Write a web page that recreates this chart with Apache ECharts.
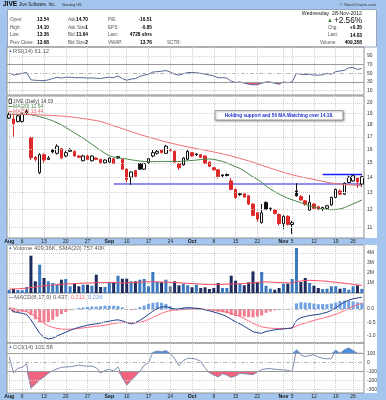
<!DOCTYPE html>
<html><head><meta charset="utf-8">
<script src="https://cdn.jsdelivr.net/npm/echarts@6/dist/echarts.min.js"></script>
<style>html,body{margin:0;padding:0;background:#a4c6ee;}#c{width:386px;height:400px;}</style>
</head><body><div id="c"></div>
<script>
// ---------------- DATA ----------------
const categories = ['Aug 1','Aug 2','Aug 3','Aug 6','Aug 7','Aug 8','Aug 9','Aug 10','Aug 13','Aug 14','Aug 15','Aug 16','Aug 17','Aug 20','Aug 21','Aug 22','Aug 23','Aug 24','Aug 27','Aug 28','Aug 29','Aug 30','Aug 31',
'Sep 4','Sep 5','Sep 6','Sep 7','Sep 10','Sep 11','Sep 12','Sep 13','Sep 14','Sep 17','Sep 18','Sep 19','Sep 20','Sep 21','Sep 24','Sep 25','Sep 26','Sep 27','Sep 28',
'Oct 1','Oct 2','Oct 3','Oct 4','Oct 5','Oct 8','Oct 9','Oct 10','Oct 11','Oct 12','Oct 15','Oct 16','Oct 17','Oct 18','Oct 19','Oct 22','Oct 23','Oct 24','Oct 25','Oct 26','Oct 31',
'Nov 1','Nov 2','Nov 5','Nov 6','Nov 7','Nov 8','Nov 9','Nov 12','Nov 13','Nov 14','Nov 15','Nov 16','Nov 19','Nov 20','Nov 21','Nov 23','Nov 26','Nov 27','Nov 28'];
const tickIndex = [0,3,8,13,18,23,27,32,37,42,47,52,57,63,65,70,75,79];
const tickText  = ['Aug','6','13','20','27','Sep','10','17','24','Oct','8','15','22','Nov','5','12','19','26'];
const monthTicks = ['Aug','Sep','Oct','Nov'];

const opens = [18.6,18.52,18.3,18.3,19.0,16.95,15.4,14.3,15.6,15.25,
15.95,15.7,16.05,15.5,15.85,15.85,15.5,15.15,15.5,15.15,
15.35,15.25,15.0,15.05,15.3,15.45,15.25,14.55,14.0,14.45,
14.95,14.55,15.0,15.5,15.7,15.95,15.7,15.9,15.85,14.95,
14.85,15.25,15.75,15.65,15.6,15.5,15.05,14.65,14.5,14.15,
14.18,13.75,13.2,12.92,12.92,12.8,12.3,11.8,11.25,12.4,
11.98,11.95,11.7,11.2,11.6,11.15,13.1,12.75,12.5,11.95,
12.3,12.15,11.98,12.05,12.25,12.7,13.1,12.9,13.65,13.75,
13.95,13.54];
const closes = [18.9,18.1,18.8,19.0,19.2,15.37,15.25,15.6,15.2,15.35,
15.8,16.25,15.35,15.75,15.95,15.5,15.4,15.5,15.25,15.5,
15.25,15.0,15.2,15.35,14.95,15.35,14.55,13.85,14.35,14.05,
14.55,14.95,15.3,15.75,15.85,15.75,16.25,16.0,15.05,14.65,
15.35,15.85,15.5,15.6,15.4,14.95,14.75,14.5,14.05,14.1,
14.12,13.2,12.7,12.87,12.72,12.3,11.65,11.45,11.8,12.0,
12.05,11.75,11.2,11.6,11.15,11.25,12.8,12.55,12.3,12.4,
12.05,11.98,12.1,12.2,12.7,13.2,12.9,13.6,14.0,14.1,
13.68,14.03];
const lows = [18.5,17.0,18.2,18.2,18.9,15.2,15.1,14.2,15.0,15.2,
15.7,15.6,15.3,15.4,15.8,15.45,15.35,15.1,15.2,15.1,
15.2,14.95,14.95,15.0,14.9,15.3,14.5,13.65,13.5,14.0,
14.5,14.5,14.95,15.4,15.6,15.7,15.65,15.85,15.0,14.5,
14.8,15.2,15.45,15.5,15.35,14.9,14.7,14.45,13.9,14.0,
14.05,13.15,12.6,12.8,12.7,12.25,11.6,11.3,11.2,11.95,
11.9,11.7,11.1,10.9,11.1,10.65,12.75,12.5,12.2,11.9,
12.0,11.95,11.9,12.0,12.2,12.65,12.85,12.85,13.6,13.7,
13.3,13.36];
const highs = [19.1,18.9,18.9,19.1,19.4,17.0,15.5,15.7,15.7,15.5,
16.0,16.4,16.1,15.9,16.1,15.9,15.55,15.6,15.6,15.55,
15.4,15.3,15.25,15.4,15.35,15.5,15.3,14.6,14.4,14.5,
15.0,15.0,15.35,15.95,15.95,16.0,16.35,16.05,15.9,15.0,
15.4,15.95,15.8,15.7,15.65,15.55,15.1,14.7,14.55,14.2,
14.25,13.95,13.25,13.0,12.95,12.85,12.35,11.85,12.3,12.45,
12.1,12.0,11.75,11.65,11.65,11.35,13.6,12.85,12.55,12.85,
12.35,12.2,12.15,12.25,12.75,13.25,13.2,13.65,14.1,14.15,
14.0,14.10];
const ma20 = [18.95,18.95,18.94,18.93,18.92,18.9,18.82,18.72,18.62,18.5,
18.35,18.18,18.0,17.78,17.55,17.32,17.1,16.88,16.65,16.4,
16.15,15.92,15.7,15.52,15.42,15.36,15.32,15.28,15.22,15.17,
15.13,15.1,15.08,15.08,15.09,15.1,15.1,15.1,15.09,15.1,
15.12,15.14,15.17,15.2,15.24,15.27,15.28,15.25,15.18,15.1,
14.98,14.85,14.72,14.6,14.42,14.22,14.02,13.85,13.65,13.42,
13.22,13.05,12.9,12.77,12.65,12.56,12.47,12.38,12.28,12.2,
12.12,12.06,12.02,11.99,11.97,11.98,12.02,12.09,12.2,12.31,
12.43,12.54];
const ma50 = [18.97,18.96,18.95,18.94,18.93,18.92,18.9,18.88,18.86,18.85,
18.83,18.81,18.78,18.75,18.71,18.66,18.61,18.55,18.5,18.44,
18.37,18.3,18.18,18.05,17.92,17.8,17.68,17.55,17.43,17.3,
17.19,17.08,16.98,16.88,16.78,16.68,16.59,16.5,16.42,16.34,
16.27,16.2,16.13,16.06,15.99,15.93,15.87,15.8,15.73,15.66,
15.58,15.5,15.41,15.32,15.23,15.14,15.05,14.92,14.82,14.72,
14.62,14.52,14.42,14.33,14.24,14.16,14.09,14.02,13.96,13.9,
13.85,13.78,13.72,13.66,13.61,13.57,13.54,13.52,13.5,13.48,
13.46,13.44];
const supportLevel = 13.55, supportStart = 24;
const resistanceLevel = 14.18, resistanceStart = 72;
const priceLevels = [11,12,13,14,15,16,17,18,19,20];

const rsi = [51,46,48,50,52,35,34,33.5,33,35,
38,41,39,41,41,40,40,40,39,39.5,
38.5,38,40,41,40,44,38,34,37,38,
43,46,48,53,54,55,56.5,53,48,46,
49,52,52,51.5,50,48,46,44,40,40,
39,32,29,30,27.5,25,23.5,24,27,30.5,
30,27,25,30.5,28.5,30.5,50,48,47,48,
46,45.5,47,50,48,54,55.5,57,63,63.5,
59,61.12];
const rsiLevels = [90,70,50,30,10];

const volumeK = [300,420,300,280,600,3730,1170,2830,1500,1170,
1000,830,1330,1400,670,930,670,830,830,730,
1830,600,600,1070,1070,1730,1430,1430,1170,1170,
1330,1400,670,2100,1100,1070,1330,670,1170,770,
930,770,570,830,500,570,400,500,1000,500,
500,1730,1230,930,770,1070,2160,1070,2100,730,
430,330,500,930,930,1400,4500,1100,1500,1000,
730,500,400,430,670,670,430,500,330,670,
770,409];
const volSmaK = [380,400,420,450,480,550,600,660,720,760,
800,830,870,900,920,940,960,980,1000,1010,
1030,1040,1050,1060,1070,1020,1000,1010,1030,1050,
1100,1120,1120,1130,1120,1100,1090,1070,1050,1030,
1000,970,940,920,890,860,840,830,840,860,
880,900,920,930,950,980,1020,1060,1100,1120,
1100,1070,1050,1030,1020,1000,1150,1200,1250,1270,
1250,1220,1200,1170,1120,1080,1030,980,920,860,
800,757.4];

const macd = [0.03,-0.1,-0.13,-0.16,-0.2,-0.4,-0.65,-0.9,-1.05,-1.11,
-1.08,-1.0,-0.93,-0.86,-0.79,-0.73,-0.68,-0.64,-0.6,-0.57,
-0.55,-0.52,-0.48,-0.45,-0.42,-0.4,-0.44,-0.5,-0.55,-0.5,
-0.42,-0.32,-0.2,-0.08,0.02,0.07,0.09,0.04,-0.01,0.0,
0.03,0.05,0.04,0.03,0.01,-0.03,-0.07,-0.11,-0.16,-0.21,
-0.28,-0.38,-0.47,-0.55,-0.64,-0.74,-0.84,-0.88,-0.9,-0.83,
-0.8,-0.77,-0.75,-0.74,-0.72,-0.7,-0.42,-0.32,-0.28,-0.24,
-0.22,-0.2,-0.16,-0.12,-0.05,0.04,0.16,0.25,0.33,0.38,
0.41,0.437];
const macdSignal = [0.05,0.02,-0.02,-0.06,-0.1,-0.17,-0.27,-0.4,-0.53,-0.62,
-0.68,-0.72,-0.74,-0.75,-0.75,-0.74,-0.72,-0.7,-0.68,-0.66,
-0.64,-0.62,-0.6,-0.57,-0.54,-0.51,-0.5,-0.5,-0.51,-0.51,
-0.49,-0.45,-0.39,-0.31,-0.23,-0.16,-0.1,-0.06,-0.04,-0.03,
-0.02,-0.01,0.0,0.0,0.0,-0.01,-0.02,-0.04,-0.06,-0.09,
-0.12,-0.16,-0.21,-0.27,-0.36,-0.44,-0.53,-0.6,-0.66,-0.69,
-0.71,-0.72,-0.72,-0.72,-0.72,-0.71,-0.63,-0.57,-0.52,-0.47,
-0.42,-0.38,-0.34,-0.3,-0.25,-0.2,-0.13,-0.06,0.02,0.1,
0.16,0.211];
const macdLevels = [0,-0.5,-1.0];

const cci = [60,-110,-65,-55,-15,-285,-240,-195,-160,-120,
-90,-70,-55,-50,-48,-40,-30,-38,-42,-40,
-60,-115,-90,-75,-95,-50,-170,-250,-200,-150,
-100,-30,-5,110,125,118,130,100,40,-35,
20,45,45,35,10,-60,-115,-140,-160,-125,
-140,-165,-150,-120,-125,-130,-135,-105,-80,-70,
-68,-75,-80,-82,-88,-100,140,80,65,75,
85,60,45,40,40,135,100,140,160,130,
100,101.58];
const cciLevels = [100,0,-100,-200,-300];

// ---------------- BUILD ----------------
const FONT = '"Liberation Sans", Arial, sans-serif';
const tickSet = new Set(tickIndex);

const candleData = opens.map((o, i) => {
  const c = closes[i];
  const prev = i > 0 ? closes[i - 1] : o;
  const col = c < prev ? '#dc2a2a' : '#111';
  const fill = c < o ? col : '#fff';
  return {value: [o, c, lows[i], highs[i]], itemStyle: {color: fill, color0: fill, borderColor: col, borderColor0: col, borderWidth: 1}};
});
const volData = volumeK.map((v, i) => {
  const c = closes[i], p = i > 0 ? closes[i - 1] : opens[i];
  const col = c > p ? '#3a78c0' : (c < opens[i] ? '#1e2b5e' : '#6f7c98');
  return {value: v, itemStyle: {color: col}};
});
const histData = macd.map((m, i) => {
  const h = +(m - macdSignal[i]).toFixed(3);
  return {value: h, itemStyle: {color: h >= 0 ? '#6fa3e6' : '#f47d90'}};
});

function xAx(g, showLabel) {
  return {type: 'category', gridIndex: g, data: categories, boundaryGap: true,
    axisLine: {show: false}, axisTick: {show: false},
    axisLabel: {show: showLabel, interval: (i) => tickSet.has(i), margin: 1.5, fontSize: 5, color: '#222', fontFamily: FONT,
      formatter: (v, i) => { const t = tickText[tickIndex.indexOf(i)] || ''; return monthTicks.includes(t) ? '{m|' + t + '}' : t; },
      rich: {m: {fontWeight: 'bold', fontSize: 5.2, color: '#111', fontFamily: FONT}}},
    splitLine: {show: true, alignWithLabel: true, interval: (i) => tickSet.has(i), lineStyle: {color: '#cfcfcf', type: 'dotted', width: 1}}};
}
const hiddenY = {axisLabel: {show: false}, axisLine: {show: false}, axisTick: {show: false}, splitLine: {show: false}};

function levelLines(levels, styleFn, fmt) {
  return {symbol: ['none', 'none'], silent: true, animation: false, emphasis: {disabled: true},
    label: {show: true, position: 'end', distance: 3, fontSize: 5, color: '#333', fontFamily: FONT},
    data: levels.map(v => ({yAxis: v, lineStyle: styleFn(v), label: {formatter: fmt(v)}}))};
}
const dotted = {color: '#d2d2d2', type: 'dotted', width: 1};
const solidG = {color: '#9a9a9a', type: 'solid', width: 1.2};
const dashG = {color: '#b5b5b5', type: [4, 2, 1, 2], width: 1};

const grids = [
  {top: 47, height: 48}, {top: 96, height: 142}, {top: 245, height: 48},
  {top: 293, height: 50}, {top: 343, height: 50}
].map(g => Object.assign({left: 7, right: 22, show: true, borderColor: '#8f8f8f', borderWidth: 1}, g));

const L = (o) => Object.assign({type: 'line', symbol: 'none', silent: true, animation: false}, o);
const hiddenLine = {opacity: 0};

const series = [
  // RSI (fill between the line and 30 when RSI < 30)
  L({xAxisIndex: 0, yAxisIndex: 0, data: rsi.map(v => Math.min(v, 30)), stack: 'rsi', lineStyle: hiddenLine, z: 1,
    markLine: levelLines(rsiLevels, v => (v === 70 || v === 30) ? solidG : (v === 50 ? dashG : dotted), v => String(v))}),
  L({xAxisIndex: 0, yAxisIndex: 0, data: rsi.map(v => 30 - Math.min(v, 30)), stack: 'rsi', lineStyle: hiddenLine, areaStyle: {color: '#ef5a78', opacity: 1}, z: 2}),
  L({xAxisIndex: 0, yAxisIndex: 0, data: rsi, lineStyle: {color: '#5a6899', width: 1}, z: 3}),
  // Price
  L({xAxisIndex: 1, yAxisIndex: 1, data: categories.map((_, i) => i >= supportStart ? supportLevel : null), lineStyle: {color: '#8f8ff2', width: 2}, z: 1,
    markLine: levelLines(priceLevels, () => dotted, v => String(v))}),
  L({xAxisIndex: 1, yAxisIndex: 1, data: categories.map((_, i) => i >= resistanceStart ? resistanceLevel : null), lineStyle: {color: '#1a1aff', width: 1.3}, z: 1}),
  {type: 'candlestick', xAxisIndex: 1, yAxisIndex: 1, data: candleData, barWidth: 3, silent: true, animation: false, z: 3},
  L({xAxisIndex: 1, yAxisIndex: 1, data: ma20, lineStyle: {color: '#4a844a', width: 1}, z: 4}),
  L({xAxisIndex: 1, yAxisIndex: 1, data: ma50, lineStyle: {color: '#f06e6e', width: 1}, z: 4}),
  // Volume
  {type: 'bar', xAxisIndex: 2, yAxisIndex: 2, data: volData, barWidth: 3, silent: true, animation: false, z: 2},
  L({xAxisIndex: 2, yAxisIndex: 2, data: volSmaK, lineStyle: {color: '#ff4d60', width: 1}, z: 3}),
  // MACD
  L({xAxisIndex: 3, yAxisIndex: 3, data: macd.map(() => null), z: 1,
    markLine: levelLines(macdLevels, v => v === 0 ? dashG : dotted, v => v.toFixed(1))}),
  {type: 'bar', xAxisIndex: 3, yAxisIndex: 3, data: histData, barWidth: 3, silent: true, animation: false, z: 2},
  L({xAxisIndex: 3, yAxisIndex: 3, data: macdSignal, lineStyle: {color: '#ff6a7e', width: 1}, z: 3}),
  L({xAxisIndex: 3, yAxisIndex: 3, data: macd, lineStyle: {color: '#223f8c', width: 1}, z: 4}),
  // CCI
  L({xAxisIndex: 4, yAxisIndex: 4, data: cci.map(() => 100), stack: 'cp', lineStyle: hiddenLine, z: 1,
    markLine: levelLines(cciLevels, v => (v === 100 || v === -100) ? solidG : (v === 0 ? dashG : dotted), v => String(v))}),
  L({xAxisIndex: 4, yAxisIndex: 4, data: cci.map(v => Math.max(v - 100, 0)), stack: 'cp', lineStyle: hiddenLine, areaStyle: {color: '#4a8fe0', opacity: 1}, z: 2}),
  L({xAxisIndex: 4, yAxisIndex: 4, data: cci.map(() => -100), stack: 'cn', lineStyle: hiddenLine, z: 1}),
  L({xAxisIndex: 4, yAxisIndex: 4, data: cci.map(v => Math.min(v + 100, 0)), stack: 'cn', lineStyle: hiddenLine, areaStyle: {color: '#f2647e', opacity: 1}, z: 2}),
  L({xAxisIndex: 4, yAxisIndex: 4, data: cci, lineStyle: {color: '#7f8db5', width: 1}, z: 3})
];

// ---------------- TEXT / DECOR ----------------
function T(x, y, text, size, color, bold, align) {
  return {type: 'text', z: 100, x: x, y: y, silent: true,
    style: {text: text, fill: color || '#333', font: (bold ? 'bold ' : '') + size + 'px ' + FONT,
      textAlign: align || 'left', textVerticalAlign: 'middle', align: align || 'left', verticalAlign: 'middle'}};
}
const el = [
  {type: 'rect', z: -10, silent: true, shape: {x: 7, y: 9, width: 370, height: 229}, style: {fill: '#fff'}},
  {type: 'rect', z: -10, silent: true, shape: {x: 7, y: 245, width: 370, height: 148}, style: {fill: '#fff'}},
  {type: 'rect', z: -9, silent: true, shape: {x: 7.5, y: 9.5, width: 369, height: 37.5}, style: {fill: 'none', stroke: '#97a6bc', lineWidth: 1}},
  T(3, 4.6, 'JIVE', 6.5, '#000', true),
  T(19, 4.8, 'Jive Software, Inc.', 4.5, '#222'),
  T(62, 5, 'Nasdaq GS', 3.8, '#333'),
  T(376, 4.8, '\u00A9 StockCharts.com', 4.2, '#333', false, 'right'),
  T(362, 13.8, 'Wednesday  28-Nov-2012', 5.2, '#222', false, 'right'),
  T(327, 20.8, '\u25B2', 6, '#2e7d32'),
  T(362, 20.8, '+2.56%', 8.2, '#111', false, 'right'),
  T(328, 28, 'Chg:', 4.6, '#555'), T(362, 28, '+0.35', 4.8, '#000', true, 'right'),
  T(328, 35.2, 'Last:', 4.6, '#555'), T(362, 35.2, '14.03', 4.8, '#000', true, 'right'),
  T(320, 42.4, 'Volume:', 4.6, '#555'), T(362, 42.4, '409,358', 4.8, '#000', true, 'right')
];
const infoRows = [
  ['Open:', '13.54', 'Ask:', '14.70', 'P/E:', '-16.51'],
  ['High:', '14.10', 'Ask Size:', '1', 'EPS:', '-0.85'],
  ['Low:', '13.36', 'Bid:', '11.64', 'Last:', '4728 shrs'],
  ['Prev Close:', '13.68', 'Bid Size:', '2', 'VWAP:', '13.76']
];
const rowY = [20, 27.3, 35, 42.3];
infoRows.forEach((r, k) => {
  const y = rowY[k];
  el.push(T(10, y, r[0], 4.6, '#555'), T(49, y, r[1], 4.8, '#000', true, 'right'),
          T(68, y, r[2], 4.6, '#555'), T(88, y, r[3], 4.8, '#000', true, 'right'),
          T(108, y, r[4], 4.6, '#555'), T(152, y, r[5], 4.8, '#000', true, 'right'));
});
el.push(T(167, 42.3, 'SCTR:', 4.6, '#555'));

// panel legends
const icon = (x, y) => T(x, y, '\u25B2', 4, '#3a6fc4');
el.push(icon(8.5, 51.3), T(13, 51.3, 'RSI(14) 61.12', 5.8, '#585858'));
el.push({type: 'rect', z: 100, silent: true, shape: {x: 9, y: 99, width: 2.5, height: 4.5}, style: {fill: '#fff', stroke: '#222', lineWidth: 0.8}});
el.push(T(13, 101.3, 'JIVE (Daily) 14.03', 5, '#444'));
el.push({type: 'line', z: 100, silent: true, shape: {x1: 8.5, y1: 106.5, x2: 12.5, y2: 106.5}, style: {stroke: '#4a844a', lineWidth: 1}});
el.push(T(13, 106.5, 'MA(20) 12.54', 5, '#4f7f4f'));
el.push({type: 'line', z: 100, silent: true, shape: {x1: 8.5, y1: 111.7, x2: 12.5, y2: 111.7}, style: {stroke: '#f06e6e', lineWidth: 1}});
el.push(T(13, 111.7, 'MA(50) 13.44', 5, '#e56262'));
el.push(icon(8.5, 248.2), T(13, 248.2, 'Volume 409.36K, SMA(20) 757.40K', 5.8, '#585858'));
el.push({type: 'text', z: 100, x: 8.5, y: 297.7, silent: true, style: {
  text: '{a|\u2014}{b|MACD(8,17,9) 0.437,} {c|0.211,} {d|0.226}', font: '5.8px ' + FONT, textVerticalAlign: 'middle', verticalAlign: 'middle',
  rich: {a: {fill: '#223f8c', font: '5.8px ' + FONT}, b: {fill: '#585858', font: '5.8px ' + FONT}, c: {fill: '#ff6a7e', font: '5.8px ' + FONT}, d: {fill: '#6fa3e6', font: '5.8px ' + FONT}}}});
el.push(icon(8.5, 347.3), T(13, 347.3, 'CCI(14) 101.58', 5.8, '#585858'));

// annotation
el.push({type: 'rect', z: 99, silent: true, shape: {x: 215, y: 110.5, width: 128, height: 9.5},
  style: {fill: '#fff', stroke: '#8a8a8a', lineWidth: 0.8, shadowBlur: 2, shadowColor: 'rgba(0,0,0,0.35)', shadowOffsetX: 1, shadowOffsetY: 1}});
el.push(T(279, 115.3, 'Holding support and 50 MA.Watching over 14.18.', 4.7, '#1d2fd0', true, 'center'));

const option = {
  animation: false,
  backgroundColor: '#a4c6ee',
  textStyle: {fontFamily: FONT},
  grid: grids,
  xAxis: [0, 1, 2, 3, 4].map(g => xAx(g, g === 1 || g === 4)),
  yAxis: [
    Object.assign({gridIndex: 0, type: 'value', min: 0, max: 110.9}, hiddenY),
    Object.assign({gridIndex: 1, type: 'log', logBase: 10, min: 10.45, max: 20.68}, hiddenY),
    {gridIndex: 2, type: 'value', min: 0, max: 4800, interval: 1000, position: 'right',
      axisLine: {show: false}, axisTick: {show: false},
      axisLabel: {fontSize: 5, color: '#333', margin: 3, fontFamily: FONT, formatter: v => (v > 0 && v % 1000 === 0) ? (v / 1000) + 'M' : ''},
      splitLine: {show: true, lineStyle: dotted}},
    Object.assign({gridIndex: 3, type: 'value', min: -1.259, max: 0.593}, hiddenY),
    Object.assign({gridIndex: 4, type: 'value', min: -337, max: 213.7}, hiddenY)
  ],
  series: series,
  graphic: {elements: el}
};
const chart = echarts.init(document.getElementById('c'), null, {renderer: 'canvas'});
chart.setOption(option);
</script>
</body></html>
